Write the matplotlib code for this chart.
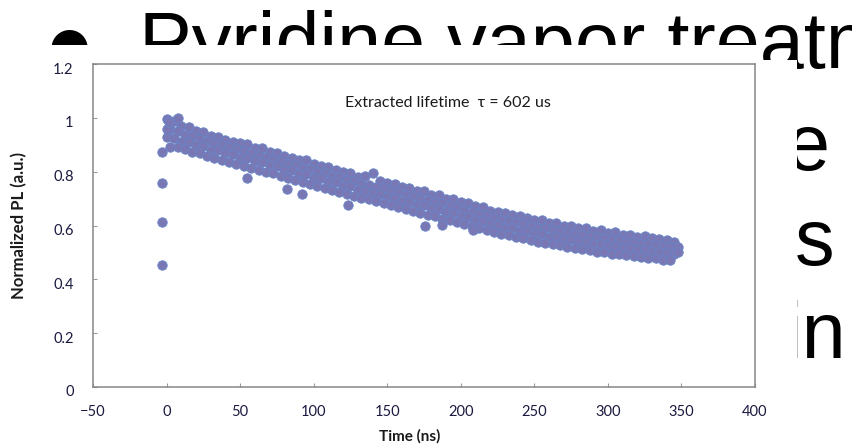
import matplotlib
matplotlib.use("Agg")
import matplotlib.pyplot as plt
import matplotlib.transforms as mtransforms
from matplotlib.patches import Rectangle

# ---------------- data ----------------
# early (t < 0) rising-edge points
t_rise = [-3, -3, -3, -3]
pl_rise = [0.455, 0.613, 0.758, 0.874]

# decay cloud, rows read across the band
t_a = [0, 5, 10, 15, 20, 25, 30, 35, 40, 45, 50, 55, 60, 65, 70, 75, 80, 85, 90, 95,
       100, 105, 110, 115, 120, 125, 130, 135, 140, 145, 150, 155, 160, 165, 170, 175,
       180, 185, 190, 195, 200, 205, 210, 215, 220, 225, 230, 235, 240, 245, 250, 255,
       260, 265, 270, 275, 280, 285, 290, 295, 300, 305, 310, 315, 320, 325, 330, 335,
       340, 345]
t_b = [2.5, 7.5, 12.5, 17.5, 22.5, 27.5, 32.5, 37.5, 42.5, 47.5, 52.5, 57.5, 62.5, 67.5,
       72.5, 77.5, 82.5, 87.5, 92.5, 97.5, 102.5, 107.5, 112.5, 117.5, 122.5, 127.5, 132.5,
       137.5, 142.5, 147.5, 152.5, 157.5, 162.5, 167.5, 172.5, 177.5, 182.5, 187.5, 192.5,
       197.5, 202.5, 207.5, 212.5, 217.5, 222.5, 227.5, 232.5, 237.5, 242.5, 247.5, 252.5,
       257.5, 262.5, 267.5, 272.5, 277.5, 282.5, 287.5, 292.5, 297.5, 302.5, 307.5, 312.5,
       317.5, 322.5, 327.5, 332.5, 337.5, 342.5]

pl_upper = [0.995, 0.99, 0.968, 0.965, 0.95, 0.948, 0.932, 0.93, 0.918, 0.912, 0.905, 0.902,
            0.888, 0.888, 0.872, 0.87, 0.86, 0.852, 0.842, 0.845, 0.83, 0.822, 0.818, 0.805,
            0.80, 0.795, 0.782, 0.785, 0.795, 0.765, 0.758, 0.755, 0.742, 0.74, 0.728, 0.73,
            0.715, 0.712, 0.70, 0.70, 0.686, 0.682, 0.672, 0.668, 0.655, 0.652, 0.645, 0.638,
            0.635, 0.628, 0.62, 0.62, 0.61, 0.608, 0.60, 0.598, 0.59, 0.59, 0.58, 0.582,
            0.572, 0.575, 0.565, 0.565, 0.558, 0.56, 0.552, 0.55, 0.545, 0.538]
pl_mid_hi = [0.958, 0.95, 0.935, 0.932, 0.92, 0.915, 0.905, 0.90, 0.89, 0.885, 0.875, 0.87,
             0.86, 0.855, 0.845, 0.84, 0.83, 0.825, 0.815, 0.81, 0.80, 0.795, 0.785, 0.78,
             0.77, 0.765, 0.755, 0.752, 0.742, 0.738, 0.728, 0.724, 0.714, 0.71, 0.70, 0.695,
             0.686, 0.682, 0.672, 0.668, 0.658, 0.652, 0.643, 0.638, 0.628, 0.622, 0.615,
             0.612, 0.604, 0.60, 0.592, 0.59, 0.582, 0.58, 0.572, 0.57, 0.564, 0.562, 0.555,
             0.553, 0.548, 0.546, 0.54, 0.538, 0.533, 0.532, 0.527, 0.525, 0.52]
pl_mid_lo = [0.93, 0.925, 0.912, 0.91, 0.898, 0.895, 0.882, 0.88, 0.868, 0.865, 0.852, 0.85,
             0.838, 0.835, 0.823, 0.82, 0.808, 0.805, 0.792, 0.79, 0.778, 0.775, 0.762, 0.76,
             0.748, 0.745, 0.733, 0.73, 0.72, 0.716, 0.705, 0.703, 0.692, 0.689, 0.678, 0.675,
             0.664, 0.661, 0.65, 0.647, 0.636, 0.632, 0.62, 0.617, 0.605, 0.602, 0.592, 0.59,
             0.581, 0.579, 0.569, 0.568, 0.559, 0.558, 0.549, 0.548, 0.54, 0.539, 0.531, 0.531,
             0.523, 0.524, 0.516, 0.517, 0.509, 0.51, 0.503, 0.503, 0.497, 0.495]
pl_lower = [0.89, 0.89, 0.885, 0.872, 0.868, 0.86, 0.852, 0.845, 0.835, 0.83, 0.822, 0.815,
            0.808, 0.80, 0.795, 0.785, 0.775, 0.77, 0.76, 0.755, 0.748, 0.74, 0.732, 0.725,
            0.718, 0.71, 0.703, 0.697, 0.69, 0.682, 0.676, 0.668, 0.662, 0.655, 0.648, 0.64,
            0.634, 0.626, 0.62, 0.612, 0.606, 0.598, 0.59, 0.583, 0.576, 0.57, 0.563, 0.558,
            0.552, 0.546, 0.54, 0.536, 0.53, 0.526, 0.52, 0.517, 0.512, 0.508, 0.503, 0.50,
            0.495, 0.493, 0.49, 0.486, 0.483, 0.48, 0.478, 0.473, 0.472]

# scattered stray points around the band
t_stray = [0.5, 1.5, 8, 55, 82, 92, 123, 176, 187, 208, 347.5, 347.5]
pl_stray = [0.96, 0.985, 0.998, 0.776, 0.737, 0.718, 0.676, 0.60, 0.603, 0.585, 0.52, 0.50]

x_ticks = [-50, 0, 50, 100, 150, 200, 250, 300, 350, 400]
y_ticks = [0, 0.2, 0.4, 0.6, 0.8, 1.0, 1.2]
y_tick_labels = ["0", "0.2", "0.4", "0.6", "0.8", "1", "1.2"]

slide_title = "Pyridine vapor treatment"
slide_frag = ["e", "s", "in"]
annotation = "Extracted lifetime  \u03c4 = 602 us"

# ---------------- figure ----------------
W, H = 852, 446
fig = plt.figure(figsize=(W / 100, H / 100), dpi=100)
fig.patch.set_facecolor("white")


def fx(px):
    return px / W


def fy(py):
    return 1 - py / H


slide_font = ["Liberation Sans", "DejaVu Sans"]
fig.text(fx(139), fy(68), slide_title, fontsize=57, family=slide_font,
         va="baseline", ha="left", color="black", zorder=1)
fig.text(fx(48), fy(59), "\u25cf", fontsize=34, family=["DejaVu Sans"],
         va="baseline", ha="left", color="black", zorder=1)
for frag, xpx, ypx in zip(slide_frag, [786, 795, 785], [170, 265, 358]):
    fig.text(fx(xpx), fy(ypx), frag, fontsize=57, family=slide_font,
             va="baseline", ha="left", color="black", zorder=1)

# the pasted chart image (white) covering the slide text
fig.patches.append(Rectangle((0, 0), fx(760), fy(45), transform=fig.transFigure,
                             facecolor="white", edgecolor="none", zorder=2))
fig.patches.append(Rectangle((fx(760), 0), fx(797) - fx(760), fy(60),
                             transform=fig.transFigure,
                             facecolor="white", edgecolor="none", zorder=2))

# axes frame: left 93, right 755, top 64, bottom 387 (pixels)
ax = fig.add_axes([fx(93), fy(387), fx(755) - fx(93), fy(64) - fy(387)])
ax.set_zorder(3)
ax.set_facecolor("white")

mk = dict(s=46, facecolor="#7a78b4", edgecolor="#6585c8", linewidths=0.6, zorder=3)
ax.scatter(t_rise, pl_rise, **mk)
ax.scatter(t_a, pl_upper, **mk)
ax.scatter(t_b, pl_mid_hi, **mk)
ax.scatter(t_a, pl_mid_lo, **mk)
ax.scatter(t_b, pl_lower, **mk)
ax.scatter(t_stray, pl_stray, **mk)

ax.set_xlim(-50, 400)
ax.set_ylim(0, 1.2)
ax.set_xticks(x_ticks)
ax.set_yticks(y_ticks)
ax.set_yticklabels(y_tick_labels)

tick_font = ["Lato", "DejaVu Sans"]
for spine in ax.spines.values():
    spine.set_color("#868686")
    spine.set_linewidth(1.1)
ax.tick_params(direction="in", length=3, width=0.8, color="#9a9a9a",
               labelsize=10.5, labelcolor="#1a1a40")
ax.tick_params(axis="x", pad=13)
ax.tick_params(axis="y", pad=14)
for lab in ax.get_xticklabels() + ax.get_yticklabels():
    lab.set_family(tick_font)
offset = mtransforms.ScaledTranslation(0, -4 / 100, fig.dpi_scale_trans)
for lab in ax.get_yticklabels():
    lab.set_transform(lab.get_transform() + offset)

ax.set_ylabel("Normalized PL (a.u.)", fontsize=12, fontweight="bold",
              family=tick_font, color="#1a1a1a", va="center")
ax.yaxis.set_label_coords((19 - 93) / 662, 0.5)
ax.set_xlabel("Time (ns)", fontsize=11, fontweight="bold", family=tick_font,
              color="#1a1a1a", va="center")
ax.xaxis.set_label_coords((410 - 93) / 662, (387 - 436) / 323)

ax.text(121, 1.056, annotation, fontsize=11.5, family=tick_font,
        color="#1a1a1a", va="center", ha="left")

fig.savefig("out.png", dpi=100, facecolor="white")
